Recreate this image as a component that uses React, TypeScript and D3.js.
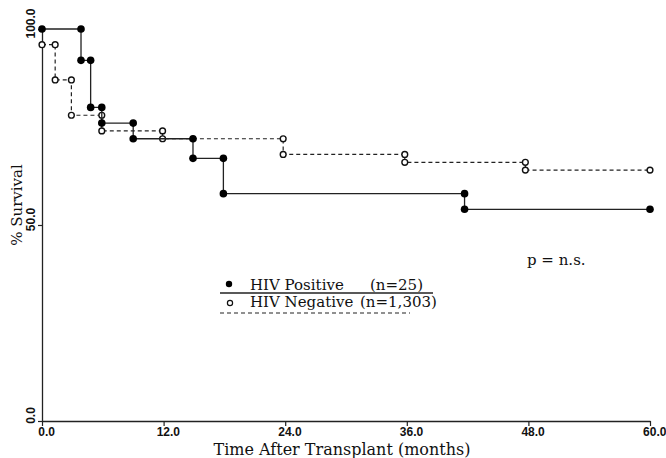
import { useEffect, useRef } from 'react'
import * as d3 from 'd3'

// Kaplan-Meier steps: level[i] holds from time[i] until time[i+1] (last one until end)
const posTimes = [0, 3.85, 4.8, 5.9, 9.0, 14.9, 17.9, 41.7]
const posSurvival = [100, 92, 80, 76, 72, 67, 58, 54]
const negTimes = [0, 1.3, 2.9, 5.9, 11.9, 23.8, 35.8, 47.7]
const negSurvival = [96, 87, 78, 74, 72, 68, 66, 64]
const endTime = 60

const xTicks = [0, 12, 24, 36, 48, 60]
const yTicks = [0, 50, 100]

const legendNames = ['HIV Positive', 'HIV Negative']
const legendCounts = ['(n=25)', '(n=1,303)']
const pValueLabel = 'p = n.s.'
const xTitle = 'Time After Transplant (months)'
const yTitle = '% Survival'

const W = 666
const H = 458
const serif = '"DejaVu Serif", serif'
const tickFont = '"Liberation Sans", Arial, sans-serif'

function stepPoints(times: number[], vals: number[]) {
  // corner points of the step curve; markers sit on every corner
  const pts: [number, number][] = []
  times.forEach((t, i) => {
    if (i > 0) pts.push([t, vals[i - 1]])
    pts.push([t, vals[i]])
  })
  pts.push([endTime, vals[vals.length - 1]])
  return pts
}

export default function App() {
  const svgRef = useRef<SVGSVGElement>(null)

  useEffect(() => {
    if (!svgRef.current) return
    const margin = { top: 29, right: 16, bottom: 37, left: 42 }
    const innerW = W - margin.left - margin.right
    const innerH = H - margin.top - margin.bottom

    const svg = d3.select(svgRef.current)
    svg.selectAll('*').remove()
    svg.attr('width', W).attr('height', H)

    const g = svg.append('g').attr('transform', `translate(${margin.left},${margin.top})`)

    const x = d3.scaleLinear().domain([0, 60]).range([0, innerW])
    const y = d3.scaleLinear().domain([0, 100]).range([innerH, 0])

    // X axis
    g.append('g')
      .attr('transform', `translate(0,${innerH})`)
      .call(d3.axisBottom(x).tickValues(xTicks).tickSize(5).tickSizeOuter(0).tickFormat(d3.format('.1f')))
      .call(ax => ax.select('.domain').attr('stroke', '#222').attr('stroke-width', 1.3))
      .call(ax => ax.selectAll('line').attr('stroke', '#222').attr('stroke-width', 1.2))
      .selectAll('text')
      .attr('fill', '#111').attr('font-size', '12px').attr('font-weight', 'bold')
      .attr('font-family', tickFont).attr('dx', '0.35em').attr('dy', '0.58em')

    // Y axis
    const yAx = g.append('g')
      .call(d3.axisLeft(y).tickValues(yTicks).tickSize(4).tickSizeOuter(0).tickFormat(d3.format('.1f')))
    yAx.select('.domain').attr('stroke', '#222').attr('stroke-width', 1.3)
    yAx.selectAll('line').attr('stroke', '#222').attr('stroke-width', 1.2)
    yAx.selectAll('text')
      .attr('transform', 'rotate(-90)')
      .attr('text-anchor', 'middle')
      .attr('x', 6).attr('y', -7).attr('dy', 0)
      .attr('fill', '#111').attr('font-size', '12px').attr('font-weight', 'bold')
      .attr('font-family', tickFont)

    // Axis titles
    svg.append('text')
      .attr('x', margin.left + innerW / 2 - 4).attr('y', 455)
      .attr('text-anchor', 'middle')
      .attr('font-family', serif).attr('font-size', '16px').attr('fill', '#111')
      .text(xTitle)
    svg.append('text')
      .attr('transform', `translate(22,${205}) rotate(-90)`)
      .attr('text-anchor', 'middle')
      .attr('font-family', serif).attr('font-size', '15px').attr('fill', '#111')
      .text(yTitle)

    const line = d3.line<[number, number]>().x(d => x(d[0])).y(d => y(d[1]))

    // HIV negative (dashed, open circles)
    const negPts = stepPoints(negTimes, negSurvival)
    g.append('path').datum(negPts)
      .attr('d', line).attr('fill', 'none').attr('stroke', '#222')
      .attr('stroke-width', 1.2).attr('stroke-dasharray', '4,3')
    g.selectAll('.neg').data(negPts).join('circle')
      .attr('class', 'neg')
      .attr('cx', d => x(d[0])).attr('cy', d => y(d[1])).attr('r', 2.9)
      .attr('fill', '#fff').attr('stroke', '#111').attr('stroke-width', 1.4)

    // HIV positive (solid, filled circles)
    const posPts = stepPoints(posTimes, posSurvival)
    g.append('path').datum(posPts)
      .attr('d', line).attr('fill', 'none').attr('stroke', '#222').attr('stroke-width', 1.3)
    g.selectAll('.pos').data(posPts).join('circle')
      .attr('class', 'pos')
      .attr('cx', d => x(d[0])).attr('cy', d => y(d[1])).attr('r', 3.8)
      .attr('fill', '#000')

    // Legend
    const lg = svg.append('g').attr('transform', 'translate(220,0)')
    lg.append('circle').attr('cx', 9).attr('cy', 284).attr('r', 3.2).attr('fill', '#000')
    const t1 = lg.append('text').attr('x', 30).attr('y', 290)
      .attr('font-family', serif).attr('font-size', '15px').attr('fill', '#111')
    t1.append('tspan').text(legendNames[0])
    t1.append('tspan').attr('x', 150).text(legendCounts[0])
    lg.append('line').attr('x1', 0).attr('x2', 213).attr('y1', 293).attr('y2', 293)
      .attr('stroke', '#222').attr('stroke-width', 1.3)
    lg.append('circle').attr('cx', 10).attr('cy', 303).attr('r', 2.6)
      .attr('fill', '#fff').attr('stroke', '#111').attr('stroke-width', 1.2)
    const t2 = lg.append('text').attr('x', 30).attr('y', 307)
      .attr('font-family', serif).attr('font-size', '15px').attr('fill', '#111')
    t2.append('tspan').text(legendNames[1])
    t2.append('tspan').attr('x', 140).text(legendCounts[1])
    lg.append('line').attr('x1', 0).attr('x2', 190).attr('y1', 313).attr('y2', 313)
      .attr('stroke', '#222').attr('stroke-width', 1.2).attr('stroke-dasharray', '4,3')

    svg.append('text').attr('x', 527).attr('y', 265)
      .attr('font-family', serif).attr('font-size', '15px').attr('fill', '#111')
      .text(pValueLabel)
  }, [])

  return (
    <div style={{ position: 'absolute', left: 0, top: 0, width: W, height: H, background: '#fff' }}>
      <svg ref={svgRef} style={{ display: 'block' }} />
    </div>
  )
}
